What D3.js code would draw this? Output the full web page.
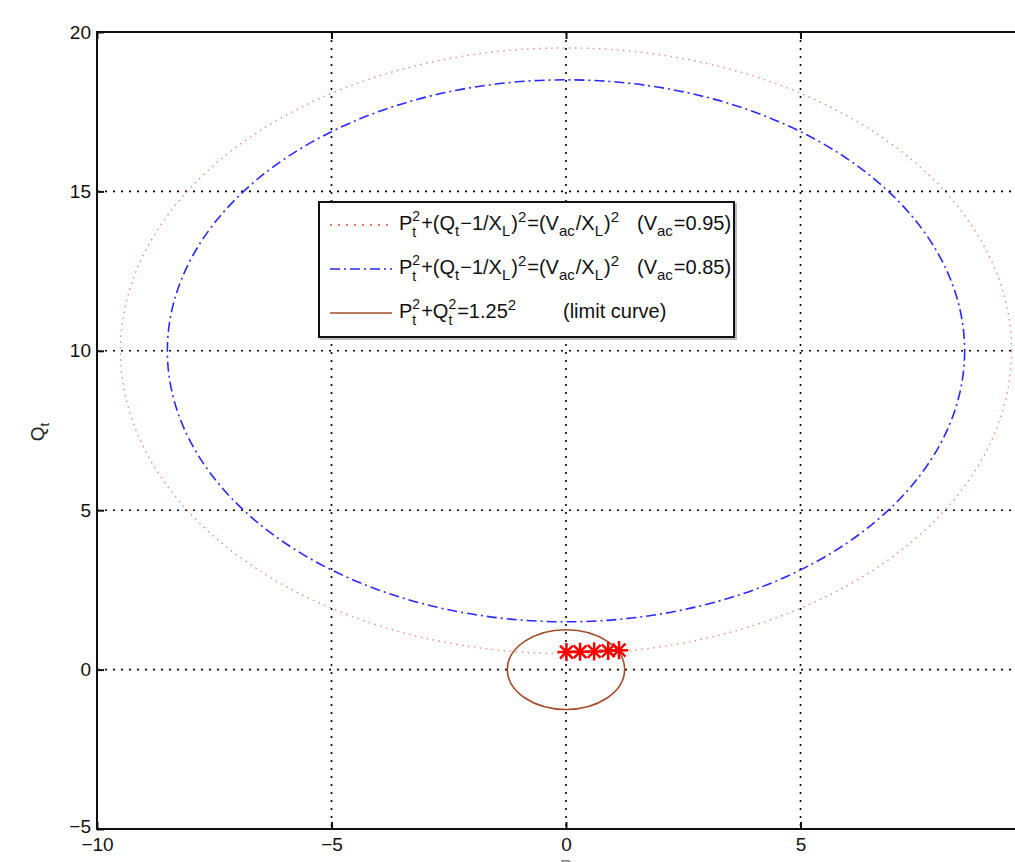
<!DOCTYPE html>
<html>
<head>
<meta charset="utf-8">
<script src="https://cdn.jsdelivr.net/npm/d3@7"></script>
<style>
  body { margin: 0; background: #fff; }
  svg { display: block; font-family: "Liberation Sans", Arial, sans-serif; }
</style>
</head>
<body>
<svg id="chart" width="1015" height="862"></svg>
<script>
// circle curves: P^2 + (Q - qCenter)^2 = radius^2
const curveNames = ["vac095", "vac085", "limit"];
const curveCenterQ = [10, 10, 0];
const curveRadius = [9.5, 8.5, 1.25];

// operating points (red stars)
const pointsP = [0.01, 0.30, 0.60, 0.90, 1.13];
const pointsQ = [0.55, 0.56, 0.57, 0.59, 0.61];

const xTicks = [-10, -5, 0, 5, 10];
const yTicks = [-5, 0, 5, 10, 15, 20];

let svg = d3.select("#chart");
let W = +svg.attr("width");
let margin = {top: 32, left: 97, bottom: 33},
    plotW = 938,
    plotH = +svg.attr("height") - margin.top - margin.bottom;

let x = d3.scaleLinear().domain([-10, 10]).range([margin.left, margin.left + plotW]);
let y = d3.scaleLinear().domain([-5, 20]).range([margin.top + plotH, margin.top]);

let styles = {
    vac095: {stroke: "#f08a8a", width: 1.4, dash: "1.5,4.5"},
    vac085: {stroke: "#2a2aff", width: 1.6, dash: "10,4,2,4"},
    limit: {stroke: "#a34d2b", width: 1.6, dash: null}
};
let legendStroke = {vac095: "#f24b3a", vac085: "#2a2aff", limit: "#a34d2b"};

// grid
let grid = svg.append("g");
grid.selectAll(".gx").data(xTicks.filter(d => d > -10 && d < 10)).enter().append("line")
    .attr("x1", d => x(d)).attr("x2", d => x(d))
    .attr("y1", y(20)).attr("y2", y(-5))
    .attr("stroke", "#000").attr("stroke-width", 1.6).attr("stroke-dasharray", "2,6");
grid.selectAll(".gy").data(yTicks.filter(d => d > -5 && d < 20)).enter().append("line")
    .attr("x1", x(-10)).attr("x2", x(10))
    .attr("y1", d => y(d)).attr("y2", d => y(d))
    .attr("stroke", "#000").attr("stroke-width", 1.6).attr("stroke-dasharray", "2,6");

// curves
svg.append("g").selectAll("ellipse").data(curveNames).enter().append("ellipse")
    .attr("cx", x(0))
    .attr("cy", (d, i) => y(curveCenterQ[i]))
    .attr("rx", (d, i) => x(curveRadius[i]) - x(0))
    .attr("ry", (d, i) => y(0) - y(curveRadius[i]))
    .attr("fill", "none")
    .attr("stroke", d => styles[d].stroke)
    .attr("stroke-width", d => styles[d].width)
    .attr("stroke-dasharray", d => styles[d].dash);

// stars
let plus = d3.symbol().type(d3.symbolPlus).size(110);
let cross = d3.symbol().type(d3.symbolTimes).size(110);
let pts = svg.append("g").selectAll("g").data(pointsP).enter().append("g")
    .attr("transform", (d, i) => "translate(" + x(d) + "," + y(pointsQ[i]) + ")");
pts.append("path").attr("d", plus).attr("fill", "none").attr("stroke", "#ff0000").attr("stroke-width", 2.5);
pts.append("path").attr("d", cross).attr("fill", "none").attr("stroke", "#ff0000").attr("stroke-width", 2.5);

// axes frame
svg.append("rect")
    .attr("x", x(-10)).attr("y", y(20))
    .attr("width", x(10) - x(-10)).attr("height", y(-5) - y(20))
    .attr("fill", "none").attr("stroke", "#111").attr("stroke-width", 2);

let fmt = d => d3.format("d")(d).replace("-", "\u2212");
let axB = d3.axisBottom(x).tickValues(xTicks).tickSizeInner(-7).tickSizeOuter(0).tickPadding(9).tickFormat(fmt);
let axL = d3.axisLeft(y).tickValues(yTicks).tickSizeInner(-7).tickSizeOuter(0).tickPadding(6).tickFormat(fmt);
let axT = d3.axisTop(x).tickValues(xTicks).tickSizeInner(-7).tickSizeOuter(0).tickFormat("");

let gb = svg.append("g").attr("transform", "translate(0," + y(-5) + ")").call(axB);
let gl = svg.append("g").attr("transform", "translate(" + x(-10) + ",0)").call(axL);
let gt = svg.append("g").attr("transform", "translate(0," + y(20) + ")").call(axT);
[gb, gl, gt].forEach(g => {
    g.select(".domain").remove();
    g.selectAll(".tick line").attr("stroke", "#111").attr("stroke-width", 2);
    g.selectAll("text").attr("font-size", 19).attr("fill", "#111")
        .attr("font-family", "'Liberation Sans', Arial, sans-serif");
});
// labels past the visible edge are cropped away in the reference
gb.selectAll(".tick text").filter(d => x(d) > W - 10).remove();
// lift the bottom y label a touch so it clears the -10 x label
gl.selectAll(".tick text").filter(d => d === -5).attr("y", -3);

// axis labels
let ql = svg.append("text").attr("transform", "translate(44,432) rotate(-90)")
    .attr("text-anchor", "middle").attr("font-size", 19).attr("fill", "#222");
ql.append("tspan").text("Q");
ql.append("tspan").attr("font-size", 13).attr("dy", 5).text("t");
svg.append("text").attr("x", x(0)).attr("y", 873).attr("text-anchor", "middle")
    .attr("font-size", 19).attr("fill", "#888").text("P");

// legend
let lg = svg.append("g");
lg.append("rect").attr("x", 321).attr("y", 204).attr("width", 415).attr("height", 135)
    .attr("fill", "none").attr("stroke", "#bbb").attr("stroke-width", 2);
lg.append("rect").attr("x", 319).attr("y", 202).attr("width", 415).attr("height", 135)
    .attr("fill", "#fff").attr("stroke", "#111").attr("stroke-width", 2);

// rich text writer: [text, mode], mode: n, sup, sub, stack (sup over sub), at (jump to x)
let writeRich = (g, x0, base, segs) => {
    let cx = x0;
    let put = (t, dy, fs) => g.append("text").attr("x", cx).attr("y", base + dy).attr("font-size", fs).text(t);
    segs.forEach(s => {
        let [t, mode, t2] = s;
        if (mode === "n") {
            cx += put(t, 0, 20).node().getComputedTextLength();
        } else if (mode === "sup") {
            cx += put(t, -8, 15).node().getComputedTextLength() + 1;
        } else if (mode === "sub") {
            cx += put(t, 6, 15).node().getComputedTextLength() + 1;
        } else if (mode === "stack") {
            let a = put(t, -9, 14), b = put(t2, 7, 14);
            cx += Math.max(a.node().getComputedTextLength(), b.node().getComputedTextLength()) + 1;
        } else if (mode === "at") {
            cx = t;
        }
    });
};

let circleLabel = v => [
    ["P", "n"], ["2", "stack", "t"], ["+(Q", "n"], ["t", "sub"], ["\u22121/X", "n"], ["L", "sub"],
    [")", "n"], ["2", "sup"], ["=(V", "n"], ["ac", "sub"], ["/X", "n"], ["L", "sub"], [")", "n"], ["2", "sup"],
    [637, "at"], ["(V", "n"], ["ac", "sub"], ["=" + v + ")", "n"]
];
const legendVac = ["0.95", "0.85"];
let legendRows = [circleLabel(legendVac[0]), circleLabel(legendVac[1]),
    [["P", "n"], ["2", "stack", "t"], ["+Q", "n"], ["2", "stack", "t"], ["=1.25", "n"], ["2", "sup"],
     [563, "at"], ["(limit curve)", "n"]]];

let rowY = [225, 269, 313];
curveNames.forEach((c, i) => {
    lg.append("line").attr("x1", 330).attr("x2", 392).attr("y1", rowY[i]).attr("y2", rowY[i])
        .attr("stroke", legendStroke[c]).attr("stroke-width", 1.6)
        .attr("stroke-dasharray", c === "vac095" ? "2,6" : styles[c].dash);
    let tg = lg.append("g").attr("fill", "#111");
    writeRich(tg, 399, rowY[i] + 5, legendRows[i]);
});
</script>
</body>
</html>
